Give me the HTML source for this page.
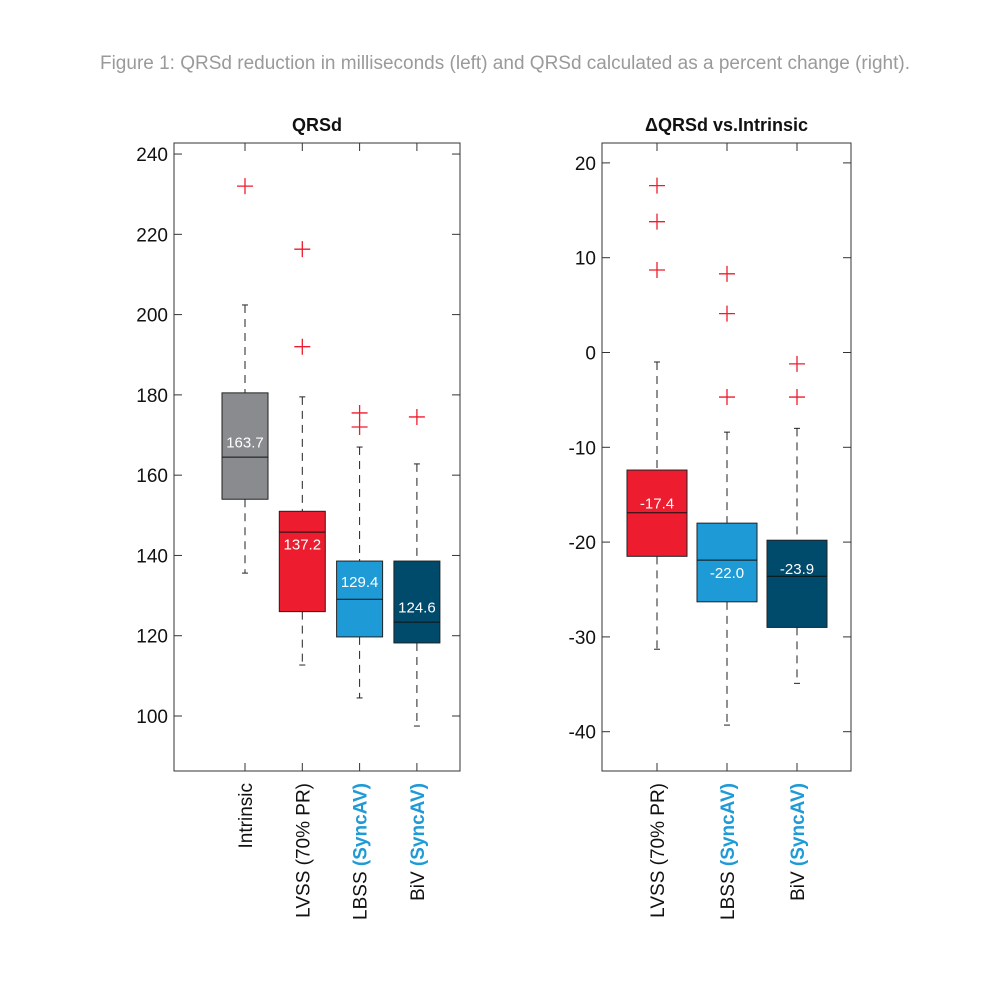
<!DOCTYPE html>
<html><head><meta charset="utf-8"><style>
body{margin:0;background:#fff;width:1000px;height:1000px;overflow:hidden}
svg text{font-family:"Liberation Sans",sans-serif}
</style></head><body>
<svg id="c" width="1000" height="1000">
<text x="505" y="69" text-anchor="middle" font-size="19" fill="#9a9a9a">Figure 1: QRSd reduction in milliseconds (left) and QRSd calculated as a percent change (right).</text>
</svg>
<script>
const leftCats=["Intrinsic","LVSS (70% PR)","LBSS","BiV"];
const leftSync=[false,false,true,true];
const leftColors=["#8a8b8f","#ed1c2e","#1e9ad6","#004a6b"];
const leftWLo=[135.6,112.7,104.5,97.5];
const leftQ1=[154,126,119.7,118.2];
const leftMed=[164.5,145.8,129.1,123.4];
const leftQ3=[180.5,151,138.6,138.6];
const leftWHi=[202.4,179.5,167,162.8];
const leftMean=[163.7,137.2,129.4,124.6];
const leftOut=[[232],[216.3,192],[175.5,172],[174.5]];
const leftTicks=[100,120,140,160,180,200,220,240];

const rightCats=["LVSS (70% PR)","LBSS","BiV"];
const rightSync=[false,true,true];
const rightColors=["#ed1c2e","#1e9ad6","#004a6b"];
const rightWLo=[-31.3,-39.3,-34.9];
const rightQ1=[-21.5,-26.3,-29];
const rightMed=[-16.9,-21.9,-23.6];
const rightQ3=[-12.4,-18,-19.8];
const rightWHi=[-1,-8.4,-8];
const rightMean=[-17.4,-22.0,-23.9];
const rightMeanTxt=["-17.4","-22.0","-23.9"];
const rightOut=[[17.6,13.8,8.7],[8.3,4.1,-4.7],[-1.2,-4.7]];
const rightTicks=[-40,-30,-20,-10,0,10,20];

const svg=document.getElementById('c');
const NS="http://www.w3.org/2000/svg";
function mk(tag,at,name){const e=document.createElementNS(NS,tag);for(const k in at)e.setAttribute(k,at[k]);


svg.appendChild(e);return e;}

function chart(o){
 const y=v=>o.y0+(v-o.v0)*o.k;
 const x=i=>o.x0+i*o.dx;
 mk('text',{x:(o.L+o.R)/2,y:131,'text-anchor':'middle','font-size':18,'font-weight':'bold',fill:'#111'},o.pfx+'-title').textContent=o.title;
 mk('rect',{x:o.L,y:o.T,width:o.R-o.L,height:o.B-o.T,fill:'none',stroke:'#333','stroke-width':1},o.pfx+'-plot-frame');
 o.ticks.forEach(t=>{const yy=y(t);
  mk('line',{x1:o.L,x2:o.L+8,y1:yy,y2:yy,stroke:'#333'},o.pfx+'-y-tick');
  mk('line',{x1:o.R-8,x2:o.R,y1:yy,y2:yy,stroke:'#333'},o.pfx+'-y-tick-right');
  const tx=mk('text',{x:o.L-6,y:yy+7,'text-anchor':'end','font-size':19,fill:'#111'},o.pfx+'-y-tick-label');tx.textContent=t;});
 o.cats.forEach((c,i)=>{const cx=x(i),hw=o.bw/2;
  mk('line',{x1:cx,x2:cx,y1:o.T,y2:o.T+8,stroke:'#333'},o.pfx+'-x-tick-top');
  mk('line',{x1:cx,x2:cx,y1:o.B-8,y2:o.B,stroke:'#333'},o.pfx+'-x-tick');
  mk('line',{x1:cx,x2:cx,y1:y(o.wHi[i]),y2:y(o.q3[i]),stroke:'#222','stroke-dasharray':'8,6'},o.pfx+'-whisker-upper');
  mk('line',{x1:cx,x2:cx,y1:y(o.q1[i]),y2:y(o.wLo[i]),stroke:'#222','stroke-dasharray':'8,6'},o.pfx+'-whisker-lower');
  mk('line',{x1:cx-3,x2:cx+3,y1:y(o.wHi[i]),y2:y(o.wHi[i]),stroke:'#222'},o.pfx+'-cap-upper');
  mk('line',{x1:cx-3,x2:cx+3,y1:y(o.wLo[i]),y2:y(o.wLo[i]),stroke:'#222'},o.pfx+'-cap-lower');
  mk('rect',{x:cx-hw,y:y(o.q3[i]),width:o.bw,height:y(o.q1[i])-y(o.q3[i]),fill:o.colors[i],stroke:'#222'},o.pfx+'-box');
  mk('line',{x1:cx-hw,x2:cx+hw,y1:y(o.med[i]),y2:y(o.med[i]),stroke:'#111'},o.pfx+'-median');
  mk('text',{x:cx,y:y(o.mean[i])+o.lblOff[i],'text-anchor':'middle','font-size':15,fill:'#fff'},o.pfx+'-mean-label').textContent=o.meanTxt?o.meanTxt[i]:o.mean[i].toFixed(1);
  o.out[i].forEach(v=>{const yy=y(v);
   mk('path',{d:`M${cx-8} ${yy}H${cx+8}M${cx} ${yy-8}V${yy+8}`,stroke:'#ed1c2e','stroke-width':1.3,fill:'none'},o.pfx+'-outlier');});
  const t=mk('text',{transform:`translate(${cx+7},${o.B+12}) rotate(-90)`,'text-anchor':'end','font-size':19,fill:'#111'},o.pfx+'-x-label');
  t.textContent=c;
  if(o.sync[i]){const s=document.createElementNS(NS,'tspan');s.setAttribute('fill','#1e9ad6');s.setAttribute('font-weight','bold');s.textContent=' (SyncAV)';t.appendChild(s);}
 });
}
chart({pfx:'left',title:'QRSd',L:174,R:460,T:143,B:771,x0:245,dx:57.3,bw:46,y0:716,v0:100,k:-4.014,
 cats:leftCats,sync:leftSync,colors:leftColors,wLo:leftWLo,q1:leftQ1,med:leftMed,q3:leftQ3,wHi:leftWHi,mean:leftMean,out:leftOut,ticks:leftTicks,lblOff:[-13,-17,-11,-5]});
chart({pfx:'right',title:'ΔQRSd vs.Intrinsic',L:602,R:851,T:143,B:771,x0:657,dx:70,bw:60,y0:352.5,v0:0,k:-9.48,
 cats:rightCats,sync:rightSync,colors:rightColors,wLo:rightWLo,q1:rightQ1,med:rightMed,q3:rightQ3,wHi:rightWHi,mean:rightMean,meanTxt:rightMeanTxt,out:rightOut,ticks:rightTicks,lblOff:[-9,17,-5]});
</script>
</body></html>
